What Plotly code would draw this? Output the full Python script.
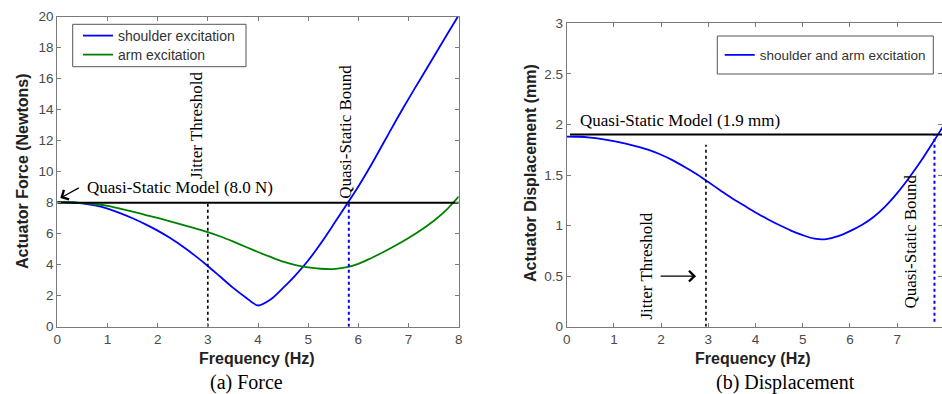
import plotly.graph_objects as go

W, H = 942, 394

# ---------------- data ----------------
freq_force = [0, 0.25, 0.5, 0.75, 1.0, 1.25, 1.5, 1.75, 2.0, 2.25, 2.5, 2.75, 3.0, 3.25, 3.5, 3.75, 4.0, 4.25,
              4.5, 4.75, 5.0, 5.25, 5.5, 5.75, 6.0, 6.25, 6.5, 6.75, 7.0, 7.25, 7.5, 7.75, 8.0]
shoulder_force = [8.05, 8.03, 7.96, 7.82, 7.62, 7.33, 7.0, 6.62, 6.2, 5.72, 5.17, 4.57, 3.92, 3.22, 2.52, 1.9, 1.37, 1.75,
                  2.5, 3.33, 4.27, 5.37, 6.57, 7.8, 9.05, 10.4, 11.85, 13.3, 14.7, 16.05, 17.4, 18.75, 20.1]
arm_force = [8.05, 8.02, 7.97, 7.9, 7.8, 7.62, 7.42, 7.22, 7.02, 6.8, 6.57, 6.34, 6.1, 5.82, 5.5, 5.16, 4.82, 4.5,
             4.2, 3.98, 3.83, 3.74, 3.72, 3.82, 4.05, 4.42, 4.82, 5.25, 5.72, 6.24, 6.82, 7.52, 8.4]

freq_disp = freq_force
disp = [1.88, 1.878, 1.87, 1.855, 1.835, 1.81, 1.78, 1.745, 1.70, 1.645, 1.58, 1.51, 1.43, 1.35, 1.27, 1.20, 1.13, 1.065,
        1.005, 0.95, 0.905, 0.87, 0.866, 0.895, 0.945, 1.005, 1.085, 1.19, 1.32, 1.47, 1.635, 1.815, 2.0]

quasi_force = 8.0          # N
quasi_disp = 1.9           # mm
jitter_force_hz = 3.0
bound_force_hz = 5.81
jitter_disp_hz = 2.95
jitter_disp_top = 1.8
bound_disp_hz = 7.79

x_ticks = [0, 1, 2, 3, 4, 5, 6, 7, 8]
force_ticks = [0, 2, 4, 6, 8, 10, 12, 14, 16, 18, 20]
disp_ticks = [0, 0.5, 1, 1.5, 2, 2.5, 3]

# ---------------- layout helpers ----------------
def pxx(x):
    return x / W

def pyy(y):
    return 1 - y / H

BLUE = "#0000ff"
GREEN = "#008000"
AXC = "#7a7a7a"
SANS = "Arial, Liberation Sans, sans-serif"
SERIF = "Times New Roman, Liberation Serif, serif"
SPL = dict(shape="spline", smoothing=0.8)

fig = go.Figure()

# Left panel
fig.add_trace(go.Scatter(x=freq_force, y=shoulder_force, mode="lines", name="shoulder excitation",
                         line=dict(color=BLUE, width=1.8, **SPL),
                         xaxis="x", yaxis="y", legend="legend"))
fig.add_trace(go.Scatter(x=freq_force, y=arm_force, mode="lines", name="arm excitation",
                         line=dict(color=GREEN, width=1.8, **SPL),
                         xaxis="x", yaxis="y", legend="legend3"))
fig.add_trace(go.Scatter(x=[0, 8], y=[quasi_force, quasi_force], mode="lines", showlegend=False,
                         line=dict(color="black", width=2), xaxis="x", yaxis="y"))
fig.add_trace(go.Scatter(x=[jitter_force_hz, jitter_force_hz], y=[0, quasi_force], mode="lines", showlegend=False,
                         line=dict(color="black", width=1.6, dash="dot"), xaxis="x", yaxis="y"))
fig.add_trace(go.Scatter(x=[bound_force_hz, bound_force_hz], y=[0, quasi_force], mode="lines", showlegend=False,
                         line=dict(color=BLUE, width=2, dash="dot"), xaxis="x", yaxis="y"))

# Right panel
fig.add_trace(go.Scatter(x=freq_disp, y=disp, mode="lines", name="shoulder and arm excitation",
                         line=dict(color=BLUE, width=1.8, **SPL),
                         xaxis="x2", yaxis="y2", legend="legend2"))
fig.add_trace(go.Scatter(x=[0.07, 8], y=[quasi_disp, quasi_disp], mode="lines", showlegend=False,
                         line=dict(color="black", width=2), xaxis="x2", yaxis="y2"))
fig.add_trace(go.Scatter(x=[jitter_disp_hz, jitter_disp_hz], y=[0, jitter_disp_top], mode="lines", showlegend=False,
                         line=dict(color="black", width=1.6, dash="dot"), xaxis="x2", yaxis="y2"))
fig.add_trace(go.Scatter(x=[bound_disp_hz, bound_disp_hz], y=[0.05, quasi_disp], mode="lines", showlegend=False,
                         line=dict(color=BLUE, width=2, dash="dot"), xaxis="x2", yaxis="y2"))

axis_common = dict(showline=True, linecolor=AXC, linewidth=1, mirror="ticks", ticks="inside",
                   ticklen=4, tickcolor=AXC, showgrid=False, zeroline=False, automargin=False,
                   tickfont=dict(family=SANS, size=13.5, color="#4a4a4a"))

leg_common = dict(xanchor="left", yanchor="middle", bgcolor="rgba(0,0,0,0)", borderwidth=0, itemwidth=30)

fig.update_layout(
    width=W, height=H,
    margin=dict(l=0, r=0, t=0, b=0, pad=0, autoexpand=False),
    paper_bgcolor="white", plot_bgcolor="white",
    xaxis=dict(domain=[pxx(57.3), pxx(458.7)], range=[0, 8], tickvals=x_ticks, anchor="y", **axis_common),
    yaxis=dict(domain=[pyy(326.7), pyy(16.7)], range=[0, 20], tickvals=force_ticks, anchor="x", **axis_common),
    xaxis2=dict(domain=[pxx(566.7), 1.0], range=[0, 7.95], tickvals=x_ticks, anchor="y2", **axis_common),
    yaxis2=dict(domain=[pyy(326.7), pyy(23.3)], range=[0, 3], tickvals=disp_ticks, anchor="x2", **axis_common),
    legend=dict(x=pxx(78), y=pyy(36), font=dict(family=SANS, size=14, color="#333"), **leg_common),
    legend3=dict(x=pxx(78), y=pyy(55), font=dict(family=SANS, size=14, color="#333"), **leg_common),
    legend2=dict(x=pxx(719.7), y=pyy(55), font=dict(family=SANS, size=13.5, color="#333"), **leg_common),
    shapes=[
        dict(type="rect", xref="paper", yref="paper", x0=pxx(72.7), x1=pxx(246), y0=pyy(66.7), y1=pyy(24.3),
             line=dict(color="#555", width=1)),
        dict(type="rect", xref="paper", yref="paper", x0=pxx(717.3), x1=pxx(933.3), y0=pyy(74), y1=pyy(36),
             line=dict(color="#555", width=1)),
    ],
)

ann = []
title_font = dict(family=SANS, size=16, color="#222")
serif = dict(family=SERIF, size=17, color="black")
cap_font = dict(family=SERIF, size=20, color="black")
# axis titles
ann.append(dict(text="<b>Actuator Force (Newtons)</b>", xref="paper", yref="paper", x=pxx(22), y=pyy(171),
                textangle=-90, showarrow=False, font=title_font, xanchor="center", yanchor="middle"))
ann.append(dict(text="<b>Actuator Displacement (mm)</b>", xref="paper", yref="paper", x=pxx(530), y=pyy(173),
                textangle=-90, showarrow=False, font=title_font, xanchor="center", yanchor="middle"))
ann.append(dict(text="<b>Frequency (Hz)</b>", xref="paper", yref="paper", x=pxx(256.7), y=pyy(358),
                showarrow=False, font=title_font, xanchor="center", yanchor="middle"))
ann.append(dict(text="<b>Frequency (Hz)</b>", xref="paper", yref="paper", x=pxx(753), y=pyy(358),
                showarrow=False, font=title_font, xanchor="center", yanchor="middle"))
# captions
ann.append(dict(text="(a) Force", xref="paper", yref="paper", x=pxx(246), y=pyy(382),
                showarrow=False, font=cap_font, xanchor="center", yanchor="middle"))
ann.append(dict(text="(b) Displacement", xref="paper", yref="paper", x=pxx(785.8), y=pyy(382),
                showarrow=False, font=cap_font, xanchor="center", yanchor="middle"))
# left panel labels
ann.append(dict(text="Quasi-Static Model (8.0 N)", xref="x", yref="y", x=0.55, y=9.0, xanchor="left", yanchor="middle",
                showarrow=False, font=serif))
ann.append(dict(text="", xref="x", yref="y", x=0.06, y=8.3, ax=20, ay=-11, showarrow=True,
                arrowhead=4, arrowsize=1.6, arrowwidth=1.3, arrowcolor="black"))
ann.append(dict(text="Jitter Threshold", xref="x", yref="y", x=2.76, y=13.0, textangle=-90, showarrow=False,
                font=serif, xanchor="center", yanchor="middle"))
ann.append(dict(text="Quasi-Static Bound", xref="x", yref="y", x=5.73, y=12.56, textangle=-90, showarrow=False,
                font=serif, xanchor="center", yanchor="middle"))
# right panel labels
ann.append(dict(text="Quasi-Static Model (1.9 mm)", xref="x2", yref="y2", x=0.24, y=2.04, xanchor="left",
                yanchor="middle", showarrow=False, font=serif))
ann.append(dict(text="Jitter Threshold", xref="x2", yref="y2", x=1.69, y=0.60, textangle=-90, showarrow=False,
                font=serif, xanchor="center", yanchor="middle"))
ann.append(dict(text="", xref="x2", yref="y2", x=2.74, y=0.5, ax=-37, ay=0, showarrow=True,
                arrowhead=4, arrowsize=1.6, arrowwidth=1.3, arrowcolor="black"))
ann.append(dict(text="Quasi-Static Bound", xref="x2", yref="y2", x=7.29, y=0.84, textangle=-90, showarrow=False,
                font=serif, xanchor="center", yanchor="middle"))
fig.update_layout(annotations=ann)

fig.write_html("out.html", config={"displayModeBar": False},
               post_script="document.body.style.margin='0';document.body.style.overflow='hidden';")
